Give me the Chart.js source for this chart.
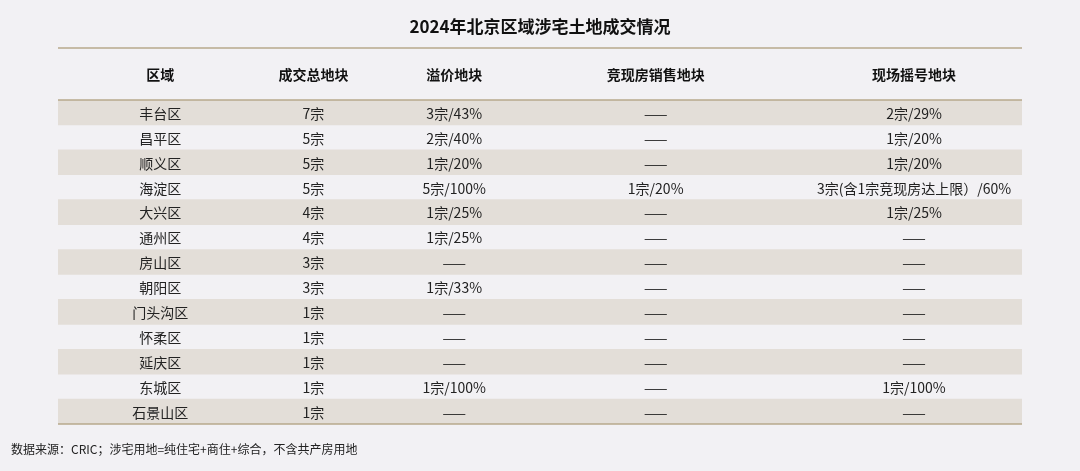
<!DOCTYPE html>
<html><head><meta charset="utf-8">
<script src="https://cdn.jsdelivr.net/npm/chart.js@4/dist/chart.umd.min.js"></script>
<style>html,body{margin:0;padding:0;background:#f2f1f4;}canvas{display:block;}</style>
</head><body>
<div style="width:1080px;height:471px"><canvas id="c"></canvas></div>
<script>
// 表のデータ
const title = '2024年北京区域涉宅土地成交情况';
const headers = ['区域', '成交总地块', '溢价地块', '竞现房销售地块', '现场摇号地块'];
const districts = ['丰台区','昌平区','顺义区','海淀区','大兴区','通州区','房山区','朝阳区','门头沟区','怀柔区','延庆区','东城区','石景山区'];
const totalLots = ['7宗','5宗','5宗','5宗','4宗','4宗','3宗','3宗','1宗','1宗','1宗','1宗','1宗'];
const premiumLots = ['3宗/43%','2宗/40%','1宗/20%','5宗/100%','1宗/25%','1宗/25%','——','1宗/33%','——','——','——','1宗/100%','——'];
const readyHouseLots = ['——','——','——','1宗/20%','——','——','——','——','——','——','——','——','——'];
const lotteryLots = ['2宗/29%','1宗/20%','1宗/20%','3宗(含1宗竞现房达上限）/60%','1宗/25%','——','——','——','——','——','——','1宗/100%','——'];
const columnCenters = [0.106, 0.265, 0.411, 0.62, 0.888];
const sourceNote = '数据来源：CRIC；涉宅用地=纯住宅+商住+综合，不含共产房用地';

const columns = [districts, totalLots, premiumLots, readyHouseLots, lotteryLots];
const FONT = '"Noto Sans CJK SC", "Noto Sans", sans-serif';

// 偶数行に背景色（横棒で描画）
const stripe = districts.map((d, i) => i % 2 === 0 ? [0, 1] : null);

const tablePlugin = {
    id: 'tableText',
    beforeDatasetsDraw(chart) {
        const { ctx, chartArea: a } = chart;
        ctx.save();
        ctx.fillStyle = '#f2f1f4';
        ctx.fillRect(a.left, a.top, a.right - a.left, a.bottom - a.top);
        ctx.restore();
    },
    afterDatasetsDraw(chart) {
        const { ctx, chartArea: a, scales: { x, y } } = chart;
        ctx.save();
        ctx.textAlign = 'center';
        ctx.textBaseline = 'middle';

        // タイトル
        ctx.fillStyle = '#111';
        ctx.font = 'bold 17px ' + FONT;
        ctx.fillText(title, (a.left + a.right) / 2, 27);

        // 罫線
        ctx.strokeStyle = '#b7a88c';
        ctx.lineWidth = 1.5;
        [48, a.top, a.bottom].forEach(py => {
            ctx.beginPath(); ctx.moveTo(a.left, py); ctx.lineTo(a.right, py); ctx.stroke();
        });

        // ヘッダー
        ctx.font = 'bold 14px ' + FONT;
        headers.forEach((h, c) => ctx.fillText(h, x.getPixelForValue(columnCenters[c]), 75));

        // セル
        ctx.fillStyle = '#222';
        ctx.font = '14px ' + FONT;
        columns.forEach((col, c) => {
            col.forEach((v, r) => ctx.fillText(v, x.getPixelForValue(columnCenters[c]), y.getPixelForValue(r) + 1));
        });

        // 出典
        ctx.textAlign = 'left';
        ctx.font = '12px ' + FONT;
        ctx.fillText(sourceNote, 11, 449);
        ctx.restore();
    }
};

new Chart(document.getElementById('c'), {
    type: 'bar',
    data: {
        labels: districts,
        datasets: [{
            data: stripe,
            backgroundColor: '#e3ded8',
            barPercentage: 1,
            categoryPercentage: 1,
            borderWidth: 0
        }]
    },
    options: {
        indexAxis: 'y',
        responsive: true,
        maintainAspectRatio: false,
        animation: false,
        layout: { padding: { top: 100, bottom: 47, left: 58, right: 58 } },
        scales: {
            x: { type: 'linear', min: 0, max: 1, display: false },
            y: { type: 'category', display: false }
        },
        plugins: { legend: { display: false }, tooltip: { enabled: false } }
    },
    plugins: [tablePlugin]
});
</script>
</body></html>
